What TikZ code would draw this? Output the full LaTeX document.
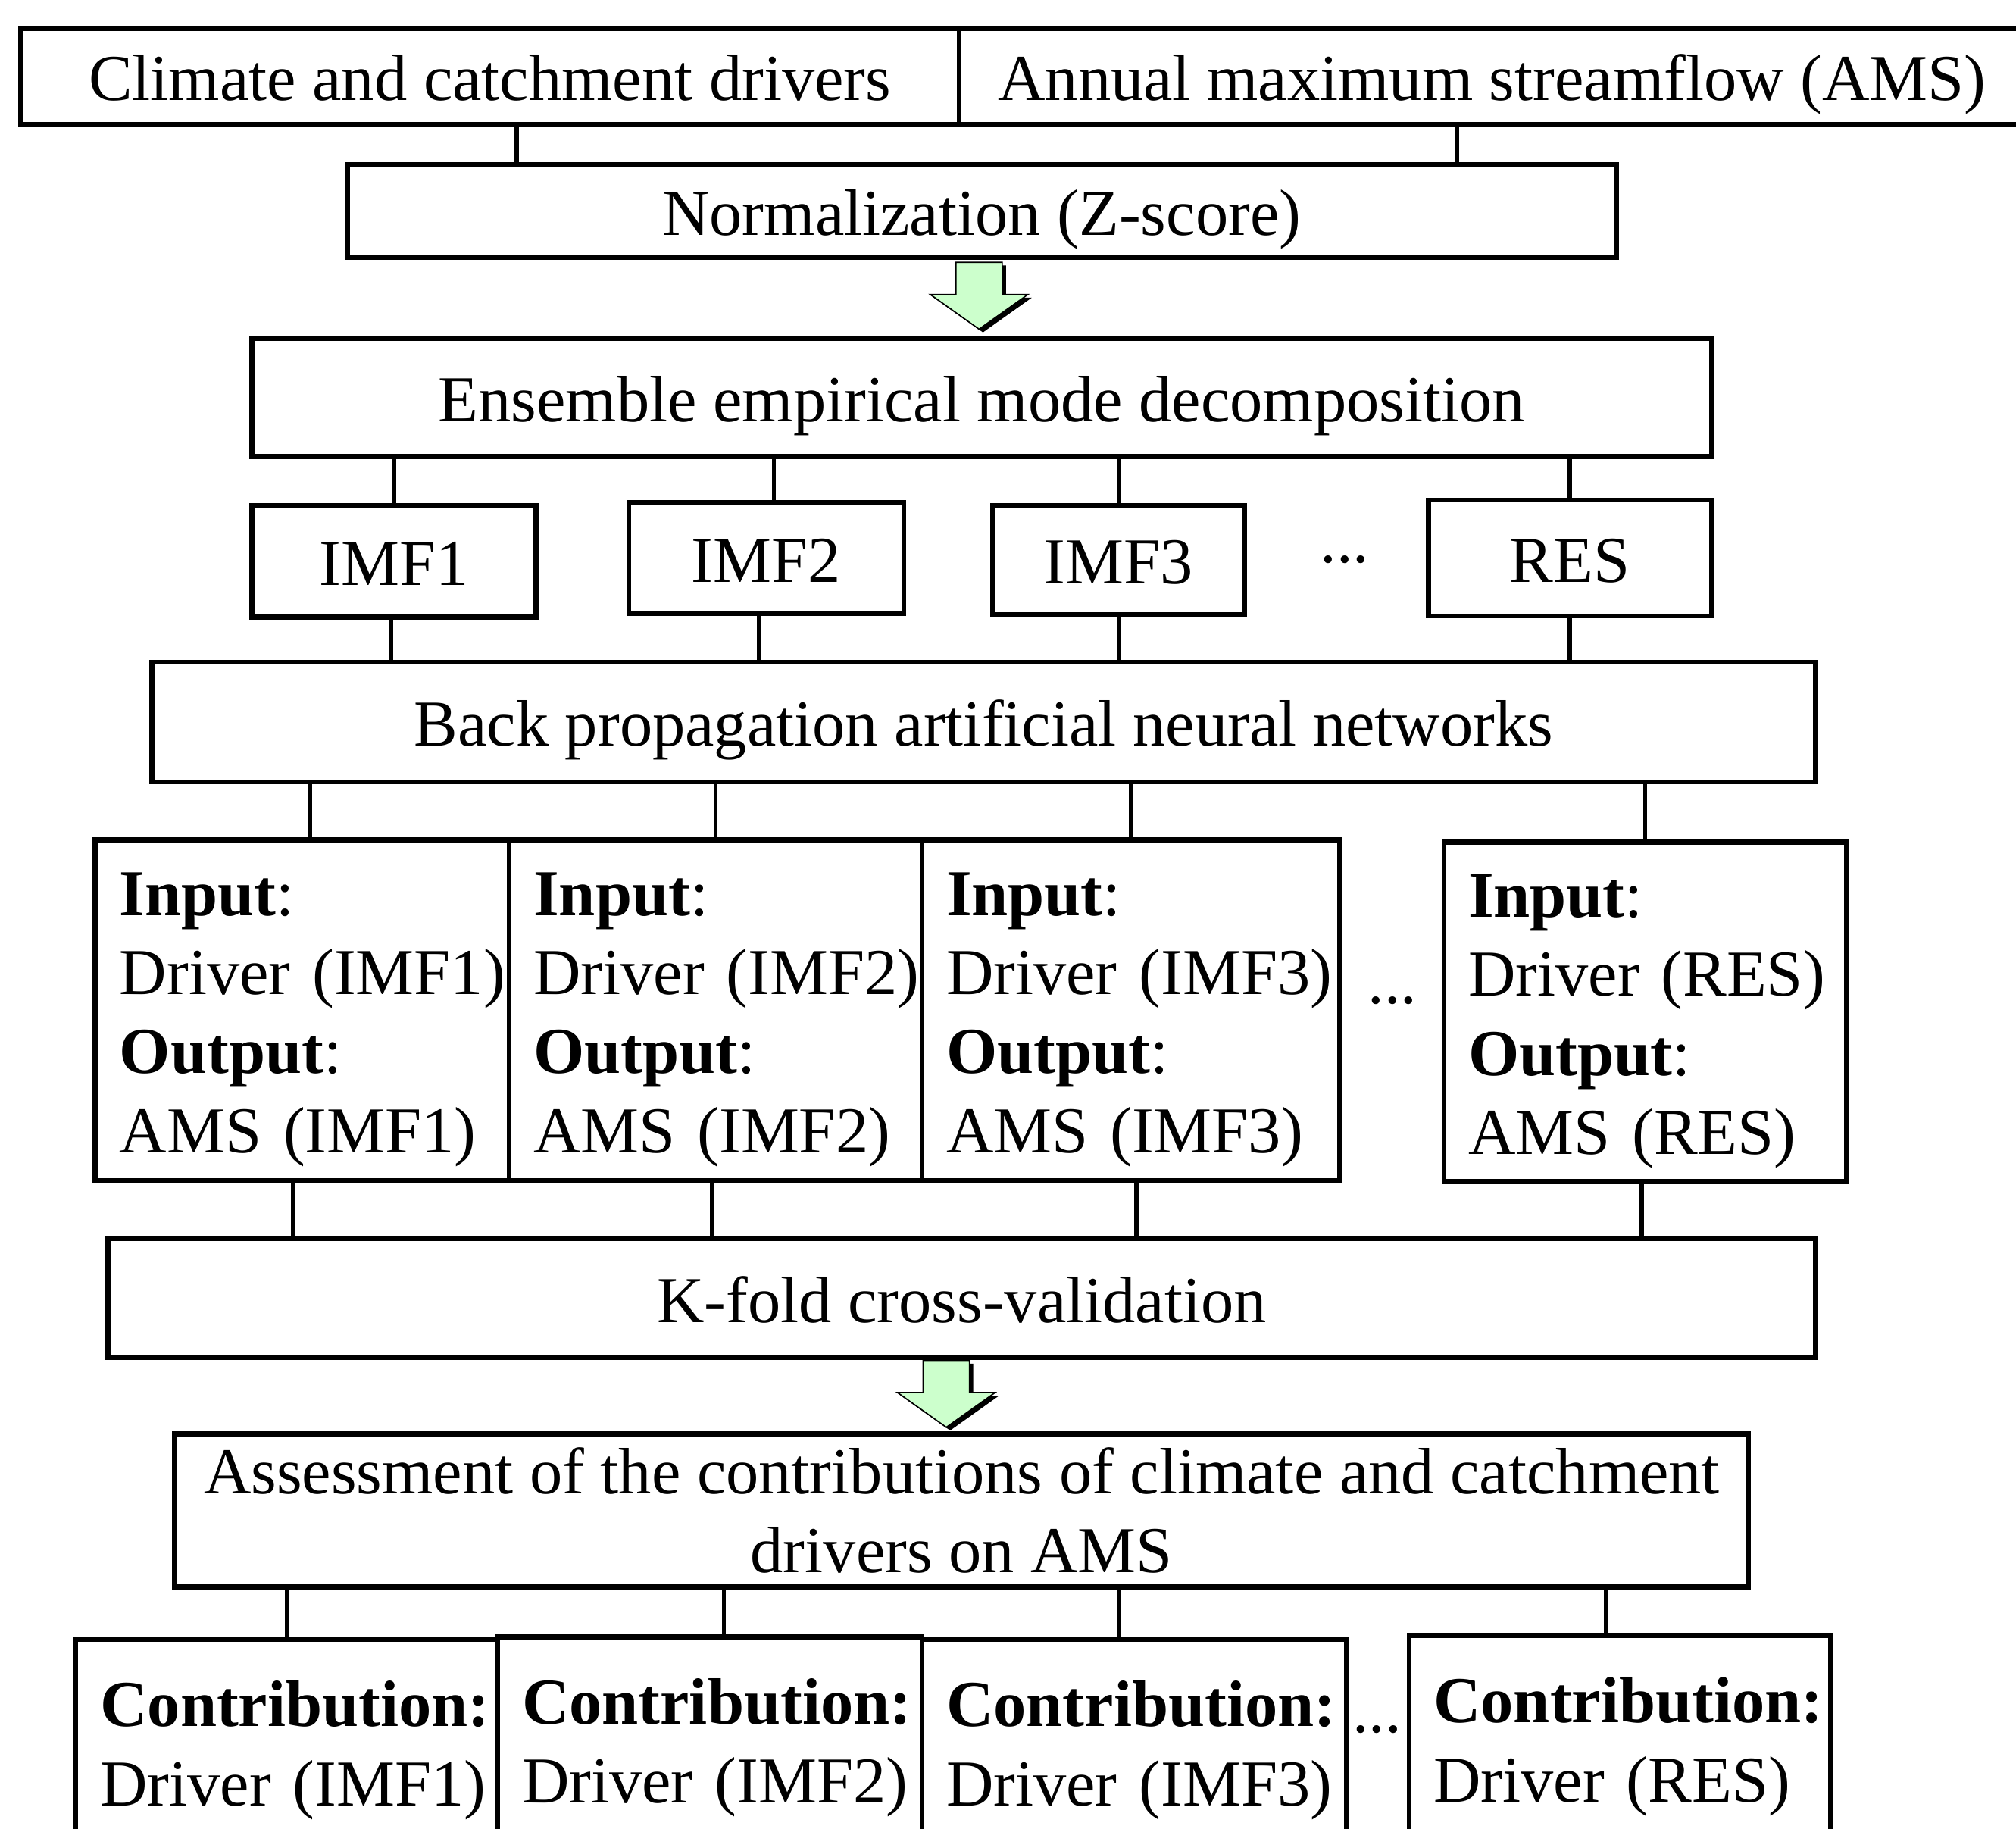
\documentclass[tikz,border=0pt]{standalone}
\usepackage{fontspec}
\setmainfont{Liberation Serif}
\usetikzlibrary{positioning, calc}

\definecolor{arrowgreen}{HTML}{CCFFCC}

\begin{document}
\begin{tikzpicture}[
    font=\fontsize{29pt}{35pt}\selectfont,
    box/.style={draw=black, line width=0.78mm, fill=white, align=center,
                inner sep=0pt, outer sep=0pt, anchor=north west},
    sbox/.style={box, text height=8.2mm, text depth=0.7mm},
    ibox/.style={box, align=left, inner xsep=3.8mm, inner ysep=0pt, minimum height=53mm,
                 execute at begin node=\rule{0pt}{9.6mm}},
    cbox/.style={box, align=left, inner xsep=3.8mm, inner ysep=6.5mm},
    ln/.style={line width=0.65mm, black},
    dotsl/.style={inner sep=0pt},
    dnarrow/.pic={
      \fill[black, shift={(0.6mm,-0.5mm)}] (-3.6mm,0) -- (3.6mm,0) -- (3.6mm,-5mm) -- (7.6mm,-5mm)
        -- (0,-10.4mm) -- (-7.6mm,-5mm) -- (-3.6mm,-5mm) -- cycle;
      \draw[fill=arrowgreen, line width=0.2mm] (-3.6mm,0) -- (3.6mm,0) -- (3.6mm,-5mm) -- (7.6mm,-5mm)
        -- (0,-10.4mm) -- (-7.6mm,-5mm) -- (-3.6mm,-5mm) -- cycle;
    }
  ]
    \useasboundingbox[fill=white] (0,0) rectangle (313.6mm,-284.4mm);
    % ---- data ----
    \node[sbox, minimum width=146mm, minimum height=15mm] (clim) at (3.2mm,-4.4mm)
      {Climate and catchment drivers};
    \node[sbox, minimum width=165.8mm, minimum height=15mm] (ams) at (clim.north east)
      {Annual maximum streamflow (AMS)};
    \node[sbox, minimum width=197.4mm, minimum height=14.4mm] (norm) at ([xshift=50.8mm,yshift=-6.2mm]clim.south west)
      {Normalization (Z-score)};
    % ---- decomposition ----
    \node[sbox, minimum width=227mm, minimum height=18.4mm] (eemd) at ([xshift=-14.8mm,yshift=-12.6mm]norm.south west)
      {Ensemble empirical mode decomposition};
    \node[sbox, minimum width=44.2mm, minimum height=17.4mm] (imf1) at ([yshift=-7.6mm]eemd.south west) {IMF1};
    \node[sbox, minimum width=42.8mm, minimum height=17.2mm] (imf2) at ([xshift=14.4mm,yshift=0.4mm]imf1.north east) {IMF2};
    \node[sbox, minimum width=39.2mm, minimum height=17mm] (imf3) at ([xshift=13.8mm,yshift=-0.4mm]imf2.north east) {IMF3};
    \node[sbox, minimum width=44mm, minimum height=18mm, anchor=north east] (res) at ([yshift=-6.8mm]eemd.south east) {RES};
    \node[dotsl] (dots1) at ([xshift=15.6mm]imf3.east) {...};
    % ---- BP-ANN ----
    \node[sbox, minimum width=258.8mm, minimum height=18.6mm] (bp) at ([xshift=-15.6mm,yshift=-7mm]imf1.south west)
      {Back propagation artificial neural networks};
    \node[ibox, text width=56.8mm] (in1) at ([xshift=-8.8mm,yshift=-9mm]bp.south west)
      {\textbf{Input}:\\Driver~(IMF1)\\\textbf{Output}:\\AMS~(IMF1)};
    \node[ibox, text width=56.6mm] (in2) at (in1.north east)
      {\textbf{Input}:\\Driver~(IMF2)\\\textbf{Output}:\\AMS~(IMF2)};
    \node[ibox, text width=57.4mm] (in3) at (in2.north east)
      {\textbf{Input}:\\Driver~(IMF3)\\\textbf{Output}:\\AMS~(IMF3)};
    \node[ibox, text width=55mm, minimum height=52.8mm] (in4) at ([xshift=16.2mm,yshift=-0.4mm]in3.north east)
      {\textbf{Input}:\\Driver~(RES)\\\textbf{Output}:\\AMS~(RES)};
    \node[dotsl] (dots2) at ([xshift=8.2mm,yshift=1.5mm]in3.east) {...};
    % ---- validation and assessment ----
    \node[sbox, minimum width=265.6mm, minimum height=18.6mm] (kfold) at ([xshift=2mm,yshift=-9mm]in1.south west)
      {K-fold cross-validation};
    \node[box, minimum width=244.8mm, minimum height=23.8mm] (assess) at ([xshift=10.4mm,yshift=-11.8mm]kfold.south west)
      {Assessment of the contributions of climate and catchment\\drivers on AMS};
    % ---- contributions ----
    \node[cbox, text width=58mm] (con1) at ([xshift=-15.4mm,yshift=-8.2mm]assess.south west)
      {\mbox{\textbf{Contribution:}}\\Driver~(IMF1)};
    \node[cbox, text width=58.4mm] (con2) at ([yshift=0.4mm]con1.north east)
      {\mbox{\textbf{Contribution:}}\\Driver~(IMF2)};
    \node[cbox, text width=58.4mm] (con3) at ([yshift=-0.4mm]con2.north east)
      {\mbox{\textbf{Contribution:}}\\Driver~(IMF3)};
    \node[cbox, text width=58mm] (con4) at ([xshift=9.8mm,yshift=0.6mm]con3.north east)
      {\mbox{\textbf{Contribution:}}\\Driver~(RES)};
    \node[dotsl] (dots3) at ([xshift=4.8mm,yshift=-14mm]con3.north east) {...};
    % ---- connectors ----
    \draw[ln] ([xshift=4.2mm]clim.south) -- ([xshift=4.2mm]clim.south |- norm.north);
    \draw[ln] ([xshift=-5.5mm]ams.south) -- ([xshift=-5.5mm]ams.south |- norm.north);
    \draw[ln] (imf1.north |- eemd.south) -- (imf1.north);
    \draw[ln] ([xshift=1.2mm]imf2.north |- eemd.south) -- ([xshift=1.2mm]imf2.north);
    \draw[ln] (imf3.north |- eemd.south) -- (imf3.north);
    \draw[ln] (res.north |- eemd.south) -- (res.north);
    \draw[ln] ([xshift=-0.5mm]imf1.south) -- ([xshift=-0.5mm]imf1.south |- bp.north);
    \draw[ln] ([xshift=-1.2mm]imf2.south) -- ([xshift=-1.2mm]imf2.south |- bp.north);
    \draw[ln] (imf3.south) -- (imf3.south |- bp.north);
    \draw[ln] (res.south) -- (res.south |- bp.north);
    \draw[ln] ([xshift=1.2mm]in1.north |- bp.south) -- ([xshift=1.2mm]in1.north);
    \draw[ln] (in2.north |- bp.south) -- (in2.north);
    \draw[ln] (in3.north |- bp.south) -- (in3.north);
    \draw[ln] (in4.north |- bp.south) -- (in4.north);
    \draw[ln] ([xshift=-1.4mm]in1.south) -- ([xshift=-1.4mm]in1.south |- kfold.north);
    \draw[ln] ([xshift=-0.5mm]in2.south) -- ([xshift=-0.5mm]in2.south |- kfold.north);
    \draw[ln] ([xshift=0.9mm]in3.south) -- ([xshift=0.9mm]in3.south |- kfold.north);
    \draw[ln] ([xshift=-0.5mm]in4.south) -- ([xshift=-0.5mm]in4.south |- kfold.north);
    \draw[ln] (con1.north |- assess.south) -- (con1.north);
    \draw[ln] ([xshift=2.2mm]con2.north |- assess.south) -- ([xshift=2.2mm]con2.north);
    \draw[ln] ([xshift=-2.4mm]con3.north |- assess.south) -- ([xshift=-2.4mm]con3.north);
    \draw[ln] ([xshift=-2.2mm]con4.north |- assess.south) -- ([xshift=-2.2mm]con4.north);
    % ---- block arrows ----
    \pic at ([xshift=-0.4mm,yshift=-0.8mm]norm.south) {dnarrow};
    \pic at ([xshift=-2.4mm,yshift=-0.4mm]kfold.south) {dnarrow};
  \end{tikzpicture}
\end{document}
